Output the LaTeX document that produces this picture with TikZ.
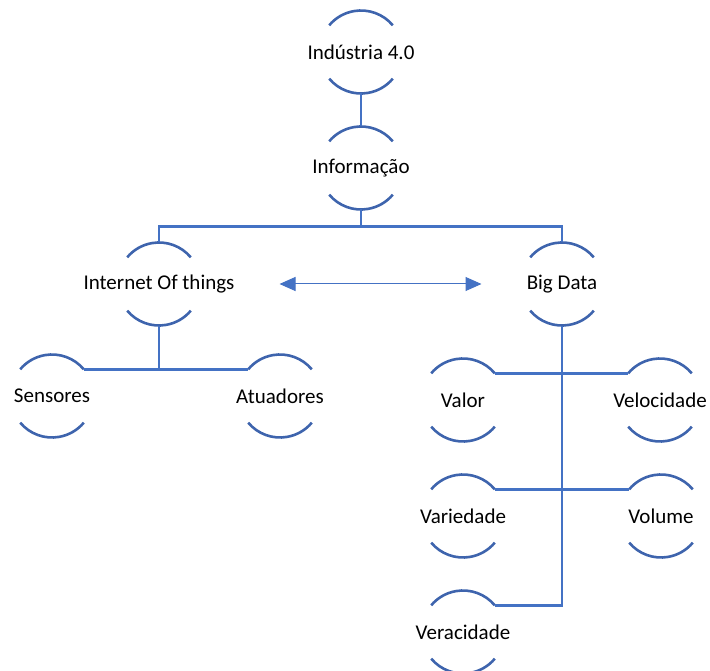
\documentclass[tikz,border=0pt]{standalone}
\usepackage{fontspec}
\setmainfont{Carlito}
\usetikzlibrary{positioning, arrows.meta}
\definecolor{arcblue}{RGB}{62,100,173}
\definecolor{lineblue}{RGB}{68,114,196}

\begin{document}
\begin{tikzpicture}[
			x=1pt, y=-1pt,
			font=\fontsize{21}{25}\selectfont,
			bub/.style={circle, minimum size=83pt, inner sep=0pt, outer sep=0pt},
			arcs/.style={draw=arcblue, line width=2.6pt},
			link/.style={draw=lineblue, line width=2.6pt},
			dbl/.style={draw=lineblue, line width=1pt, {Triangle[length=16pt,width=14pt]}-{Triangle[length=16pt,width=14pt]}}
			]
			\useasboundingbox (0,0) rectangle (710,671);
			
			\node[bub, label=center:{Indústria 4.0}] (ind) at (361,52) {};
			\node[bub, label=center:{Informação}] (inf) at (361,168) {};
			
			\node[bub, label=center:{Internet Of things}] (iot) at (159,284) {};
			\node[bub, label=center:{Big Data}] (big) at (562,284) {};
			
			\node[bub, label=center:{Sensores}] (sen) at (52,396) {};
			\node[bub, label=center:{Atuadores}] (atu) at (280,396) {};
			
			\node[bub, label=center:{Valor}] (val) at (463,400) {};
			\node[bub, label=center:{Velocidade}] (vel) at (660,400) {};
			\node[bub, label=center:{Variedade}] (var) at (463,516) {};
			\node[bub, label=center:{Volume}] (vol) at (661,516) {};
			\node[bub, label=center:{Veracidade}] (ver) at (463,632) {};
			
			\foreach \n in {ind, inf, iot, big, sen, atu, val, vel, var, vol, ver}
				\draw[arcs] (\n.40) arc[start angle=40, end angle=140, radius=41.5pt]
					(\n.220) arc[start angle=220, end angle=320, radius=41.5pt];
			
			\coordinate (fork) at ([yshift=-17pt]inf.south);
			
			\draw[link] (ind.south) -- (inf.north);
			\draw[link] (inf.south) -- (fork);
			\draw[link] (iot.north) |- (fork) -| (big.north);
			
			\draw[link] (sen.40) -- (atu.140);
			\draw[link] (iot.south) -- (iot.south |- sen.40);
			
			\draw[link] (big.south) |- (ver.40);
			\draw[link] (val.40) -- (vel.140);
			\draw[link] (var.40) -- (vol.140);
			
			\draw[dbl] ([xshift=79pt]iot.east) -- ([xshift=-39pt]big.west);
		\end{tikzpicture}
\end{document}
